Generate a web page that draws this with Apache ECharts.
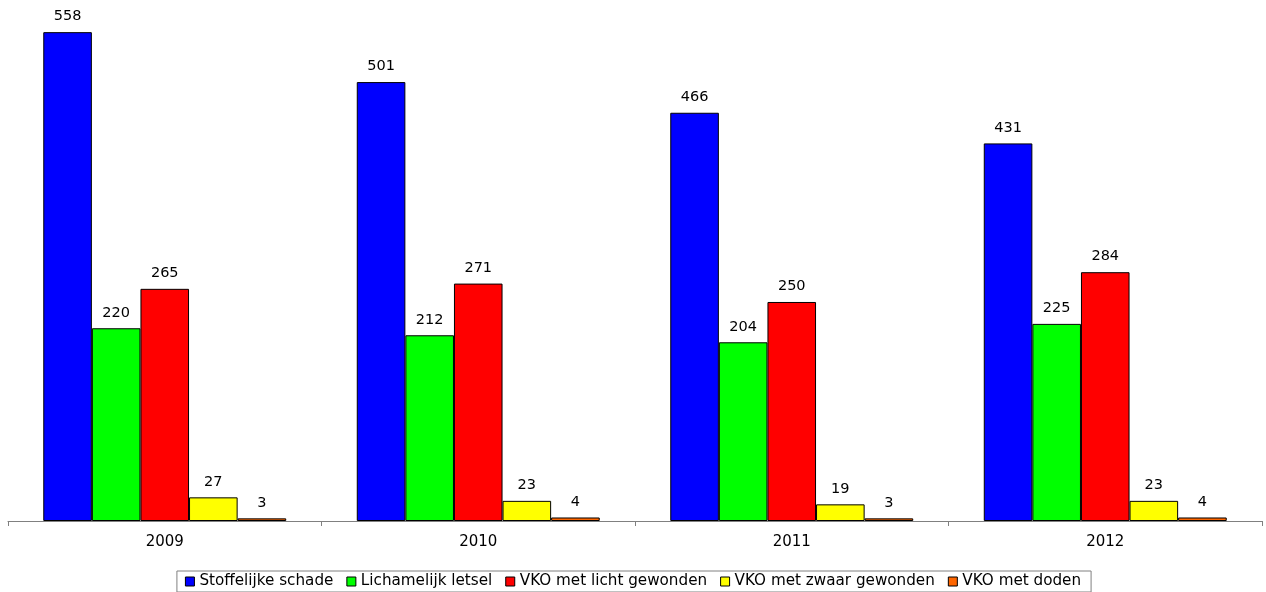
<!DOCTYPE html>
<html><head><meta charset="utf-8">
<script src="https://cdn.jsdelivr.net/npm/echarts@6/dist/echarts.min.js"></script>
<style>html,body{margin:0;padding:0;background:#fff}#c{width:1266px;height:592px}</style>
</head><body><div id="c"></div>
<script>
const categories = ['2009', '2010', '2011', '2012'];
const seriesNames = ['Stoffelijke schade', 'Lichamelijk letsel', 'VKO met licht gewonden', 'VKO met zwaar gewonden', 'VKO met doden'];
const stoffelijke = [558, 501, 466, 431];
const lichamelijk = [220, 212, 204, 225];
const licht = [265, 271, 250, 284];
const zwaar = [27, 23, 19, 23];
const doden = [3, 4, 3, 4];
const colors = ['#0000FF', '#00FF00', '#FF0000', '#FFFF00', '#FF6600'];
const values = [stoffelijke, lichamelijk, licht, zwaar, doden];

const FONT = '"DejaVu Sans", Verdana, sans-serif';
const chart = echarts.init(document.getElementById('c'), null, {renderer: 'canvas'});
chart.setOption({
  animation: false,
  textStyle: {fontFamily: FONT},
  grid: {left: 8, right: 4, top: 0, bottom: 71, containLabel: false},
  legend: {
    bottom: 0, left: 'center',
    data: seriesNames,
    itemWidth: 9, itemHeight: 9, itemGap: 13,
    icon: 'rect',
    borderColor: '#808080', borderWidth: 1,
    padding: [3, 10, 3, 8],
    itemStyle: {borderColor: '#000', borderWidth: 1},
    textStyle: {fontSize: 15.2, color: '#000', fontFamily: FONT}
  },
  xAxis: {
    type: 'category', data: categories,
    axisLine: {lineStyle: {color: '#808080', width: 1}},
    axisTick: {show: true, length: 5, lineStyle: {color: '#808080'}},
    axisLabel: {fontSize: 15, color: '#000', margin: 14, fontFamily: FONT}
  },
  yAxis: {type: 'value', min: 0, max: 594.7, show: false, splitLine: {show: false}},
  series: values.map((v, i) => ({
    name: seriesNames[i], type: 'bar', data: v,
    barGap: '0%', barCategoryGap: '22.5%',
    itemStyle: {color: colors[i], borderColor: '#000', borderWidth: 1},
    label: {show: true, position: 'top', distance: 8, fontSize: 14.5, color: '#000', fontFamily: FONT}
  }))
});
</script></body></html>
